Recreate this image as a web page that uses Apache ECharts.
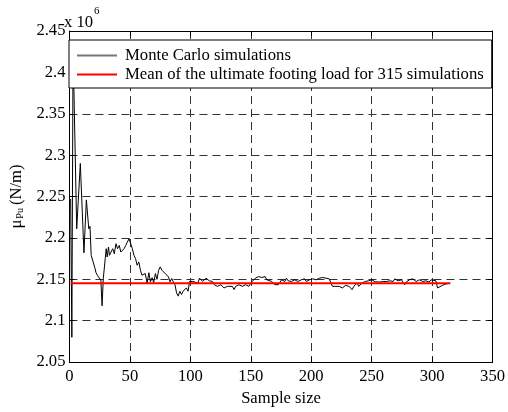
<!DOCTYPE html>
<html>
<head>
<meta charset="utf-8">
<script src="https://cdn.jsdelivr.net/npm/echarts@6/dist/echarts.min.js"></script>
<style>html,body{margin:0;padding:0;background:#fff;}#chart{width:508px;height:412px;}</style>
</head>
<body>
<div id="chart"></div>
<script>
// Monte Carlo running mean (x 10^6 N/m) versus sample size
const sampleSize = [1,2,3,6,9,12,14,16,17,18,21,22,23,24,26,27,28,29.6,30.4,31.2,32.3,33.1,34.4,35.8,37.1,38.5,39.8,41.2,42.5,43.9,45.2,46.6,47.9,49.3,50.7,52,53.4,54.7,56,57.4,58.7,60,61.6,62.7,64.3,65.7,67,68.4,69.7,71.1,72.4,73.8,75.1,76.5,77.8,79.2,80.5,81.9,83.2,84.6,85.9,87.3,88.6,90,91.3,92.7,94,95.4,96.7,98.1,99.4,100.8,102.1,103.5,106.2,107.6,110.3,111.6,113,115.7,118.4,119.8,122.5,123.8,125.2,127.9,130.6,132.1,134.8,136.2,137.5,140.2,142.9,145.7,148.4,149.7,151.1,153.8,155.1,156.5,157.9,159.2,160.6,161.9,163.3,164.6,167.3,170,171.4,172.8,174.1,175.5,176.8,178.2,179.5,180.9,182.2,183.6,186.3,189,191.7,194.5,195.9,198.6,201.3,204.1,206.8,209.5,210.9,212.2,213.6,214.9,216.3,217.6,219,220.4,221.7,223.1,224.4,225.8,227.1,228.5,229.8,231.2,232.5,233.9,235.2,236.6,238,239.3,240.7,242,244.7,247.4,250.2,252.9,256.9,259.6,262.4,265.1,266.4,267.8,269.1,270.5,271.9,273.2,274.6,275.9,277.3,278.6,280,281.3,282.7,284,285.4,286.8,288.1,289.5,292.2,294.9,297.6,299,300.4,303.1,304.5,305.8,308.5,311.3,314,315];
const muPu = [2.247,2.080,2.430,2.211,2.290,2.182,2.246,2.211,2.214,2.179,2.164,2.158,2.155,2.155,2.149,2.118,2.151,2.175,2.187,2.177,2.189,2.179,2.183,2.187,2.181,2.193,2.187,2.191,2.183,2.181,2.187,2.191,2.195,2.199,2.193,2.187,2.179,2.175,2.167,2.171,2.161,2.155,2.153,2.157,2.1455,2.158,2.147,2.152,2.146,2.157,2.150,2.161,2.165,2.161,2.163,2.157,2.159,2.153,2.147,2.151,2.147,2.1435,2.1336,2.1297,2.1356,2.1317,2.1356,2.1336,2.1396,2.1356,2.1474,2.1494,2.1474,2.1494,2.1455,2.1514,2.1474,2.1494,2.1514,2.1482,2.1474,2.1435,2.1415,2.1396,2.1435,2.1396,2.1415,2.1435,2.1415,2.1376,2.1415,2.1435,2.1415,2.1435,2.1415,2.1435,2.1474,2.1514,2.1506,2.1533,2.1514,2.1522,2.1506,2.1533,2.1494,2.1514,2.1474,2.1435,2.1415,2.1435,2.1455,2.1494,2.1514,2.1474,2.1514,2.1482,2.1506,2.1474,2.1494,2.1474,2.1494,2.1506,2.1474,2.1494,2.1506,2.1494,2.1514,2.1522,2.1533,2.1514,2.1494,2.1506,2.1455,2.1415,2.1427,2.1415,2.1396,2.1415,2.1427,2.1396,2.1415,2.1427,2.1435,2.1415,2.1396,2.1376,2.1415,2.1435,2.1455,2.1415,2.1427,2.1455,2.1474,2.1482,2.1494,2.1470,2.1467,2.1474,2.1474,2.1482,2.1494,2.1474,2.1506,2.1494,2.1482,2.1506,2.1494,2.1474,2.1435,2.1467,2.1482,2.1494,2.1482,2.1506,2.1494,2.1474,2.1482,2.1494,2.1474,2.1482,2.1467,2.1494,2.1474,2.1482,2.1396,2.1415,2.1427,2.1443,2.1451,2.1453];
const meanX = [1, 315];
const meanY = [2.1453, 2.1453];
const xTicks = [0, 50, 100, 150, 200, 250, 300, 350];
const yTicks = [2.05, 2.1, 2.15, 2.2, 2.25, 2.3, 2.35, 2.4, 2.45];
const seriesNames = ['Monte Carlo simulations', 'Mean of the ultimate footing load for 315 simulations'];

const FONT = 'Liberation Serif';
const FS = 16.6;
const mcData = sampleSize.map((n, i) => [n, muPu[i]]);
const meanData = meanX.map((n, i) => [n, meanY[i]]);

const chart = echarts.init(document.getElementById('chart'), null, {renderer: 'canvas'});
const baseAxis = {
  type: 'value',
  axisLine: {show: true, onZero: false, lineStyle: {color: '#000', width: 1}},
  axisTick: {show: true, inside: true, length: 5, lineStyle: {color: '#000'}},
  axisLabel: {show: true, color: '#000', fontFamily: FONT, fontSize: FS},
  splitLine: {show: false}
};
chart.setOption({
  animation: false,
  backgroundColor: '#fff',
  grid: {left: 66, right: 12, top: 31, bottom: 43, containLabel: false},
  graphic: [{
    type: 'text', left: 64, top: 6,
    style: {
      text: '{a|x 10}{b|6}', fill: '#000',
      rich: {
        a: {fontFamily: FONT, fontSize: FS, color: '#000', padding: [8, 0, 0, 0]},
        b: {fontFamily: FONT, fontSize: 11, color: '#000', verticalAlign: 'top', padding: [0, 0, 10, 1]}
      }
    }
  }],
  legend: {
    orient: 'vertical', left: 69, top: 40,
    padding: [7, 8, 5, 8], itemGap: 2, itemWidth: 40, itemHeight: 14,
    backgroundColor: '#fff', borderColor: '#000', borderWidth: 1,
    textStyle: {fontFamily: FONT, fontSize: 16.7, color: '#000', padding: [0, 0, 0, 3]},
    data: [
      {name: seriesNames[0], icon: 'path://M0,0 L40,0 L40,2 L0,2 Z', itemStyle: {color: '#777'}},
      {name: seriesNames[1], icon: 'path://M0,0 L40,0 L40,2 L0,2 Z', itemStyle: {color: '#ff0000'}}
    ]
  },
  xAxis: [
    Object.assign({}, baseAxis, {
      position: 'bottom', min: 0, max: 350, interval: 50,
      axisLabel: Object.assign({}, baseAxis.axisLabel, {margin: 6}),
      splitLine: {show: true, lineStyle: {color: '#333', width: 1, type: [8, 5]}},
      name: 'Sample size', nameLocation: 'middle', nameGap: 23,
      nameTextStyle: {fontFamily: FONT, fontSize: FS, color: '#000'}
    }),
    Object.assign({}, baseAxis, {position: 'top', min: 0, max: 350, interval: 50, axisLabel: {show: false}})
  ],
  yAxis: [
    Object.assign({}, baseAxis, {
      position: 'left', min: 2.05, max: 2.45, interval: 0.05,
      axisLabel: Object.assign({}, baseAxis.axisLabel, {margin: 4,
        formatter: v => String(parseFloat(v.toFixed(2)))}),
      splitLine: {show: true, lineStyle: {color: '#333', width: 1, type: [8, 5]}},
      name: '{m|μ}{s|Pu}{m|(N/m)}', nameLocation: 'middle', nameGap: 43, nameRotate: 90,
      nameTextStyle: {fontFamily: FONT, fontSize: FS, color: '#000',
        rich: {
          m: {fontFamily: FONT, fontSize: FS, color: '#000'},
          s: {fontFamily: FONT, fontSize: 10, color: '#000', padding: [8, 3, 0, 1]}
        }}
    }),
    Object.assign({}, baseAxis, {position: 'right', min: 2.05, max: 2.45, interval: 0.05, axisLabel: {show: false}})
  ],
  series: [
    {name: seriesNames[0], type: 'line', data: mcData, symbol: 'none', showSymbol: false,
     lineStyle: {color: '#000', width: 1}, itemStyle: {color: '#000'}, z: 2},
    {name: seriesNames[1], type: 'line', data: meanData, symbol: 'none', showSymbol: false,
     lineStyle: {color: '#ff0000', width: 2}, itemStyle: {color: '#ff0000'}, z: 3}
  ]
});
</script>
</body>
</html>
